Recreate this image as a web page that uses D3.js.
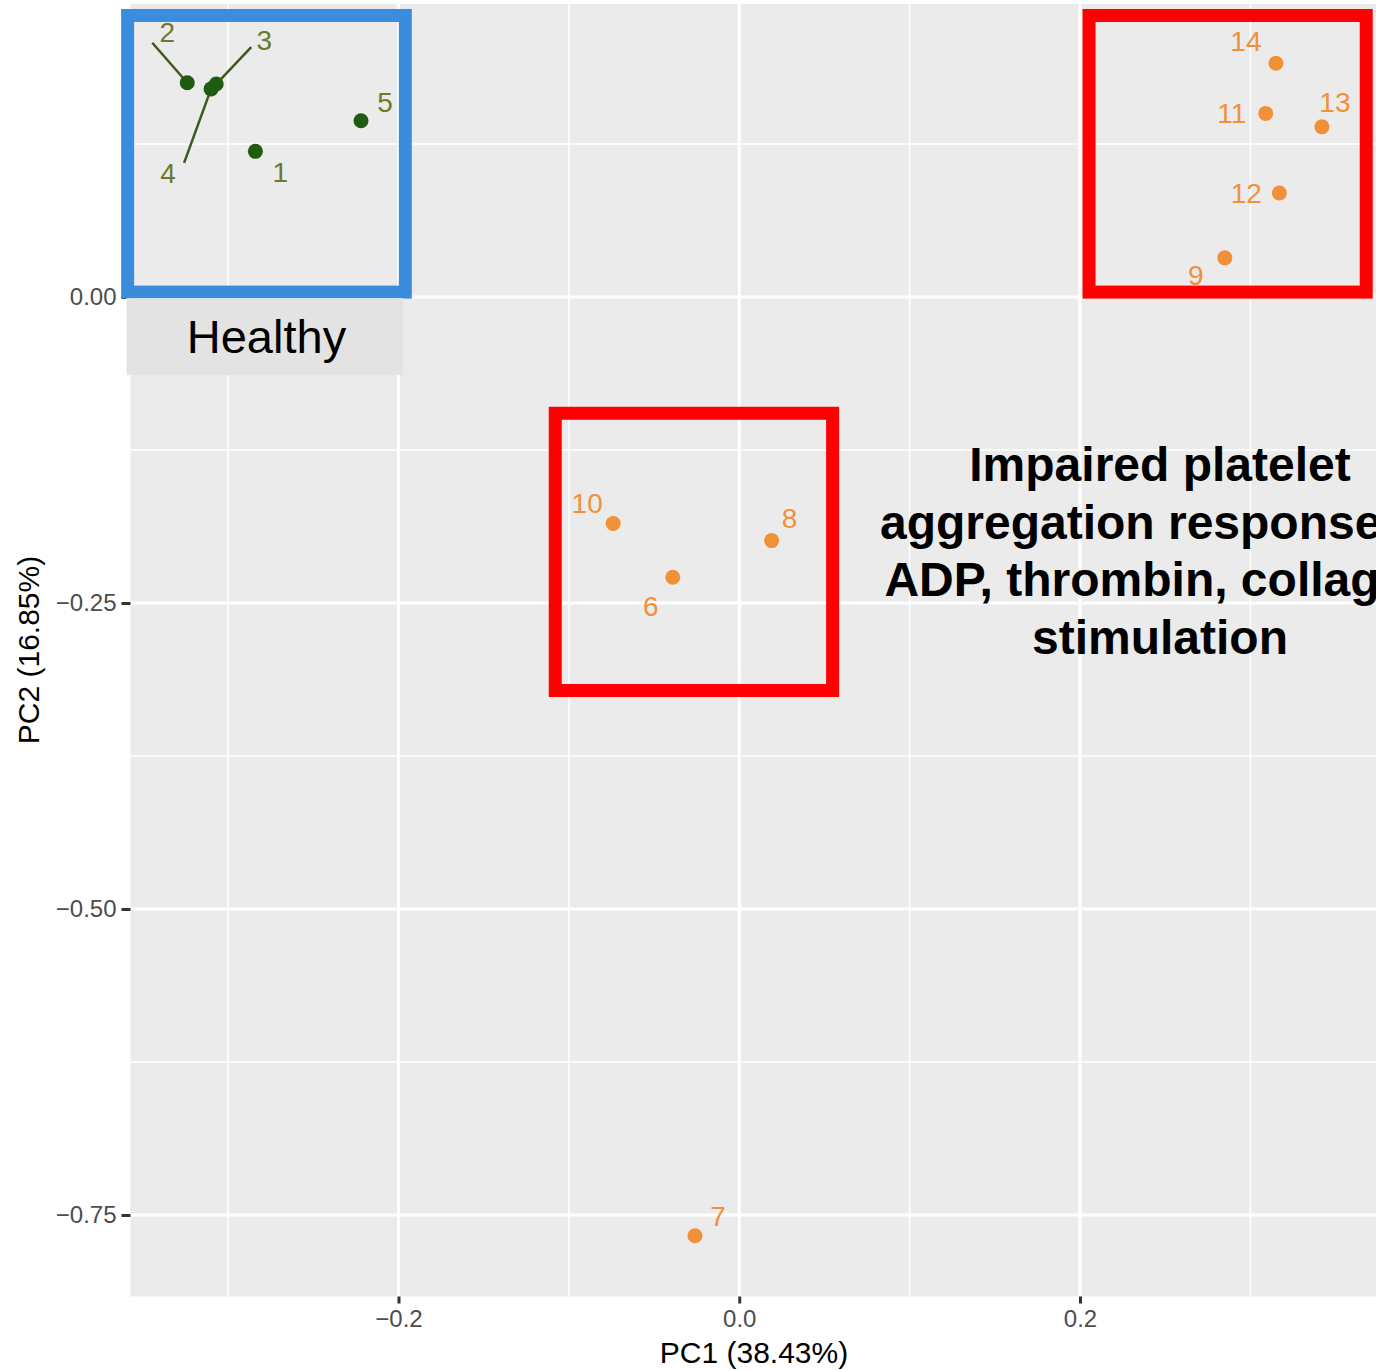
<!DOCTYPE html>
<html>
<head>
<meta charset="utf-8">
<script src="https://cdn.jsdelivr.net/npm/d3@7"></script>
<style>
  body { margin: 0; background: #fff; }
  svg { display: block; }
</style>
</head>
<body>
<script>
// sample ids, groups and PCA scores
var sampleIds = [1, 2, 3, 4, 5, 6, 7, 8, 9, 10, 11, 12, 13, 14];
var groups = ["Healthy", "Healthy", "Healthy", "Healthy", "Healthy",
              "Impaired", "Impaired", "Impaired", "Impaired", "Impaired",
              "Impaired", "Impaired", "Impaired", "Impaired"];
var pc1 = [-0.284, -0.324, -0.307, -0.310, -0.222,
           -0.039, -0.026, 0.019, 0.285, -0.074,
           0.309, 0.317, 0.342, 0.315];
var pc2 = [0.119, 0.175, 0.174, 0.170, 0.144,
           -0.229, -0.767, -0.199, 0.032, -0.185,
           0.150, 0.085, 0.139, 0.191];

// axis ticks
var xTicks = [-0.2, 0.0, 0.2];
var xMinor = [-0.3, -0.1, 0.1, 0.3];
var yTicks = [0.00, -0.25, -0.50, -0.75];
var yMinor = [0.125, -0.125, -0.375, -0.625];

// highlight boxes in data units [x0, x1, y0, y1]
var boxNames = ["healthy", "impairedTop", "impairedMid"];
var boxExtents = [[-0.359, -0.196, 0.230, 0.004],
                  [0.2053, 0.368, 0.230, 0.004],
                  [-0.108, 0.0548, -0.095, -0.3215]];
var boxColors = ["#3a8ddd", "#ff0000", "#ff0000"];

var annotationLines = ["Impaired platelet", "aggregation response to",
                       "ADP, thrombin, collagen", "stimulation"];

// label nudges in pixels (repel layout)
var labelNudge = [[25, 21], [-20, -51], [48, -44], [-43, 84], [24, -19],
                  [-22, 29], [23, -20], [18, -23], [-29, 17], [-26, -21],
                  [-34, 0], [-33, 0], [13, -25], [-30, -22]];
var segmentStart = [null, [-35, -40], [35, -37], [-27, 74], null,
                    null, null, null, null, null, null, null, null, null];

var width = 1376, height = 1370;
var pointColor = {Healthy: "#1f5c12", Impaired: "#f0913a"};
var labelColor = {Healthy: "#6b7a2a", Impaired: "#f0913a"};
var font = "'Liberation Sans', Arial, sans-serif";

var x = d3.scaleLinear().domain([-0.2, 0.2]).range([398.5, 1080]);
var y = d3.scaleLinear().domain([0, -0.75]).range([297, 1215]);
var xLim = [-0.3573, 0.40];
var yLim = [-0.8166, 0.2394];

var svg = d3.select("body").append("svg")
    .attr("width", width)
    .attr("height", height);

// panel
svg.append("rect")
    .attr("x", x(xLim[0]))
    .attr("y", y(yLim[1]))
    .attr("width", x(xLim[1]) - x(xLim[0]))
    .attr("height", y(yLim[0]) - y(yLim[1]))
    .attr("fill", "#ebebeb");

var grid = svg.append("g");
grid.selectAll(".xminor").data(xMinor).enter().append("line")
    .attr("x1", d => x(d)).attr("x2", d => x(d))
    .attr("y1", y(yLim[1])).attr("y2", y(yLim[0]))
    .attr("stroke", "#fff").attr("stroke-width", 1.5);
grid.selectAll(".yminor").data(yMinor).enter().append("line")
    .attr("y1", d => y(d)).attr("y2", d => y(d))
    .attr("x1", x(xLim[0])).attr("x2", x(xLim[1]))
    .attr("stroke", "#fff").attr("stroke-width", 1.5);
grid.selectAll(".xmajor").data(xTicks).enter().append("line")
    .attr("x1", d => x(d)).attr("x2", d => x(d))
    .attr("y1", y(yLim[1])).attr("y2", y(yLim[0]))
    .attr("stroke", "#fff").attr("stroke-width", 3);
grid.selectAll(".ymajor").data(yTicks).enter().append("line")
    .attr("y1", d => y(d)).attr("y2", d => y(d))
    .attr("x1", x(xLim[0])).attr("x2", x(xLim[1]))
    .attr("stroke", "#fff").attr("stroke-width", 3);

// axes
var yAxis = svg.append("g")
    .attr("transform", "translate(" + x(xLim[0]) + ",0)")
    .call(d3.axisLeft(y).tickValues(yTicks).tickFormat(d3.format(".2f"))
        .tickSize(9).tickPadding(5));
var xAxis = svg.append("g")
    .attr("transform", "translate(0," + y(yLim[0]) + ")")
    .call(d3.axisBottom(x).tickValues(xTicks).tickFormat(d3.format(".1f"))
        .tickSize(7).tickPadding(6));
[xAxis, yAxis].forEach(function (a) {
    a.select(".domain").remove();
    a.selectAll(".tick line").attr("stroke", "#333").attr("stroke-width", 3);
    a.selectAll(".tick text")
        .attr("fill", "#4d4d4d")
        .style("font-family", font)
        .style("font-size", "24px");
});

svg.append("text")
    .attr("x", 754).attr("y", 1363)
    .attr("text-anchor", "middle")
    .style("font-family", font)
    .style("font-size", "30px")
    .attr("fill", "#000")
    .text("PC1 (38.43%)");
svg.append("text")
    .attr("transform", "translate(39,650) rotate(-90)")
    .attr("text-anchor", "middle")
    .style("font-family", font)
    .style("font-size", "30px")
    .attr("fill", "#000")
    .text("PC2 (16.85%)");

// highlight boxes
svg.selectAll(".box").data(boxNames).enter().append("rect")
    .attr("class", d => "box " + d)
    .attr("x", (d, i) => x(boxExtents[i][0]))
    .attr("y", (d, i) => y(boxExtents[i][2]))
    .attr("width", (d, i) => x(boxExtents[i][1]) - x(boxExtents[i][0]))
    .attr("height", (d, i) => y(boxExtents[i][3]) - y(boxExtents[i][2]))
    .attr("fill", "none")
    .attr("stroke", (d, i) => boxColors[i])
    .attr("stroke-width", 13);

// "Healthy" strip under the blue box
var hb = boxExtents[0];
svg.append("rect")
    .attr("x", x(hb[0]) - 1)
    .attr("y", y(hb[3]) + 6)
    .attr("width", x(hb[1]) - x(hb[0]) - 1)
    .attr("height", 77)
    .attr("fill", "#e3e3e3");
svg.append("text")
    .attr("x", (x(hb[0]) + x(hb[1])) / 2)
    .attr("y", y(hb[3]) + 61)
    .attr("text-anchor", "middle")
    .style("font-family", font)
    .style("font-size", "47px")
    .attr("fill", "#000")
    .text("Healthy");

// repel segments
svg.selectAll(".seg").data(sampleIds.filter((d, i) => segmentStart[i])).enter()
    .append("line")
    .attr("x1", d => x(pc1[d - 1]) + segmentStart[d - 1][0])
    .attr("y1", d => y(pc2[d - 1]) + segmentStart[d - 1][1])
    .attr("x2", d => x(pc1[d - 1]))
    .attr("y2", d => y(pc2[d - 1]))
    .attr("stroke", "#3d5a1e")
    .attr("stroke-width", 2.5);

// points
svg.selectAll(".pt").data(sampleIds).enter().append("circle")
    .attr("cx", (d, i) => x(pc1[i]))
    .attr("cy", (d, i) => y(pc2[i]))
    .attr("r", 7.5)
    .attr("fill", (d, i) => pointColor[groups[i]]);

// labels
svg.selectAll(".lab").data(sampleIds).enter().append("text")
    .attr("x", (d, i) => x(pc1[i]) + labelNudge[i][0])
    .attr("y", (d, i) => y(pc2[i]) + labelNudge[i][1])
    .attr("dy", "0.36em")
    .attr("text-anchor", "middle")
    .style("font-family", font)
    .style("font-size", "28px")
    .attr("fill", (d, i) => labelColor[groups[i]])
    .text(d => d);

// annotation (runs past the right edge, as in the source figure)
svg.append("text")
    .attr("text-anchor", "middle")
    .style("font-family", font)
    .style("font-size", "48px")
    .style("font-weight", "bold")
    .attr("fill", "#000")
    .selectAll("tspan").data(annotationLines).enter().append("tspan")
    .attr("x", 1160)
    .attr("y", (d, i) => 481 + i * 57.5)
    .text(d => d);
</script>
</body>
</html>
